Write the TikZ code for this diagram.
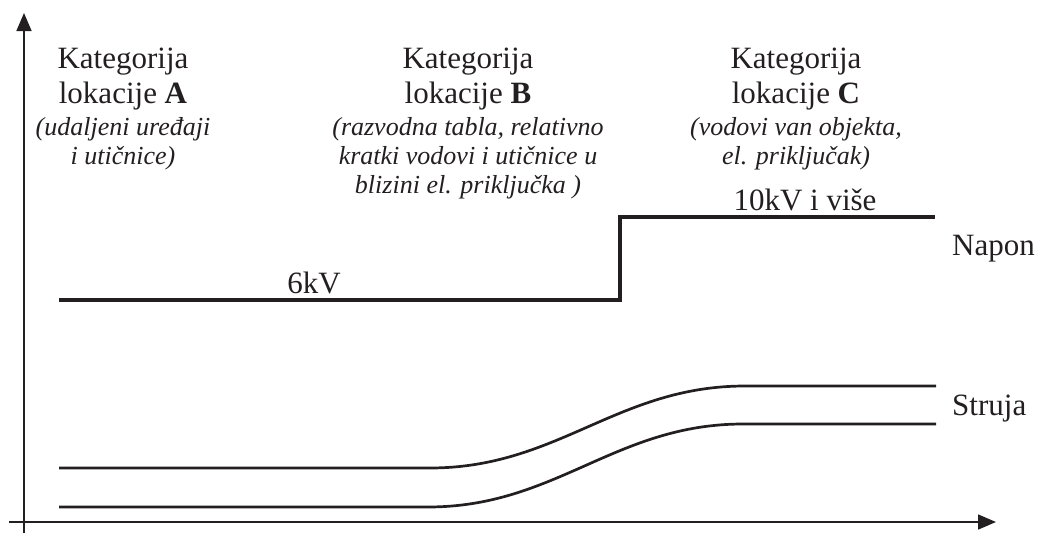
\documentclass[tikz,border=0pt]{standalone}
\usepackage{fontspec}
\setmainfont{Liberation Serif}
\usetikzlibrary{arrows.meta}
\definecolor{ink}{HTML}{231F20}
\tikzset{
  main/.style={anchor=base, inner sep=0pt, text=ink, font=\fontsize{31}{34}\selectfont},
  note/.style={anchor=base, inner sep=0pt, text=ink, font=\fontsize{26}{29}\selectfont\itshape},
  side/.style={anchor=base west, inner sep=0pt, text=ink, font=\fontsize{31}{34}\selectfont},
  axis/.style={draw=ink, line width=1.6pt, -{Triangle[length=18pt,width=15pt]}},
  curve/.style={draw=ink, line width=2.7pt},
  volt/.style={draw=ink, line width=3.1pt, line join=miter},
}
\begin{document}
\begin{tikzpicture}[x=1pt,y=-1pt]
\useasboundingbox (0,0) rectangle (1039,533);
% axes
\coordinate (ybot) at (24,533);
\coordinate (ytop) at (24,13);
\coordinate (xl) at (9,522);
\coordinate (xr) at (996,522);
\draw[axis] (ybot) -- (ytop);
\draw[axis] (xl) -- (xr);
% voltage
\coordinate (v0) at (59,300);
\coordinate (v1) at (620,300);
\coordinate (v2) at (620,217);
\coordinate (v3) at (935,217);
\draw[volt] (v0) -- (v1) -- (v2) -- (v3);
% current curves
\coordinate (a0) at (59,468);
\coordinate (a1) at (430,468);
\coordinate (a2) at (745,386);
\coordinate (a3) at (936,386);
\draw[curve] (a0) -- (a1) .. controls (558,468) and (617,386) .. (a2) -- (a3);
\coordinate (b0) at (59,507);
\coordinate (b1) at (428,507);
\coordinate (b2) at (743,424);
\coordinate (b3) at (936,424);
\draw[curve] (b0) -- (b1) .. controls (556,507) and (615,424) .. (b2) -- (b3);
% labels
\node[main] (a1t) at (123,68) {Kategorija};
\node[main] (a2t) at (123,103) {lokacije \textbf{A}};
\node[note] (a3t) at (123,135) {(udaljeni uređaji};
\node[note] (a4t) at (123,164) {i utičnice)};
\node[main] (b1t) at (468,68) {Kategorija};
\node[main] (b2t) at (468,103) {lokacije \textbf{B}};
\node[note] (b3t) at (468,135) {(razvodna tabla, relativno};
\node[note] (b4t) at (468,164) {kratki vodovi i utičnice u};
\node[note] (b5t) at (468,193) {blizini el. priključka )};
\node[main] (c1t) at (796,68) {Kategorija};
\node[main] (c2t) at (796,103) {lokacije \textbf{C}};
\node[note] (c3t) at (796,135) {(vodovi van objekta,};
\node[note] (c4t) at (796,164) {el. priključak)};
\node[main] (kv10) at (805,210) {10kV i više};
\node[main] (kv6) at (314,293) {6kV};
\node[side] (napon) at (952,255) {Napon};
\node[side] (struja) at (952,415) {Struja};
\end{tikzpicture}
\end{document}
